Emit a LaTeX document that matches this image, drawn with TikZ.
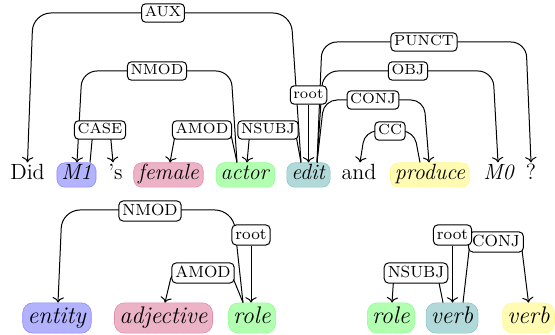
\documentclass[tikz,border=0pt]{standalone}
\usetikzlibrary{arrows.meta}
\begin{document}
\begin{tikzpicture}[x=0.5pt,y=-0.5pt,
  wa/.style={font=\fontsize{11}{13}\selectfont, text height=7.2pt, text depth=2.2pt, inner xsep=2.2pt, inner ysep=1.4pt},
  wb/.style={font=\fontsize{12}{14}\selectfont, text height=7.9pt, text depth=2.4pt, inner xsep=2.4pt, inner ysep=2.4pt},
  boxa/.style={wa, fill=#1!30, draw=#1!45, line width=0.3pt, rounded corners=4pt},
  boxb/.style={wb, fill=#1!30, draw=#1!45, line width=0.3pt, rounded corners=5pt},
  laba/.style={draw, fill=white, rounded corners=2pt, line width=0.5pt, font=\fontsize{7.3}{8.5}\selectfont, text height=5pt, text depth=1.2pt, inner xsep=1.6pt, inner ysep=1.5pt},
  labb/.style={draw, fill=white, rounded corners=2.2pt, line width=0.5pt, font=\fontsize{8.1}{9.5}\selectfont, text height=5.6pt, text depth=1.3pt, inner xsep=1.8pt, inner ysep=1.6pt},
  dep/.style={line width=0.5pt, rounded corners=7.5pt, -{To}},
  tight/.style={rounded corners=3pt},
]
\useasboundingbox (0,0) rectangle (555,335);

% row 1 words
\node[wa] (Did) at (27.5,175) {Did};
\node[boxa=blue] (M1) at (76.5,175) {\textit{M1}};
\node[wa] (s) at (115.5,175) {'s};
\node[boxa=purple] (female) at (168.5,175) {\textit{female}};
\node[boxa=green] (actor) at (245.5,175) {\textit{actor}};
\node[boxa=teal] (edit) at (308.5,175) {\textit{edit}};
\node[wa] (and) at (359,175) {and};
\node[boxa=yellow] (produce) at (430,175) {\textit{produce}};
\node[wa] (M0) at (499,175) {\textit{M0}};
\node[wa] (q) at (531,175) {?};

% row 1 edges
\draw[dep, rounded corners=9pt] ([xshift=-3.75pt]edit.north) -- (291,13) -- (33,13) -- (Did.north);
\draw[dep] ([xshift=-4.25pt]actor.north) -- (231,71) -- (82,71) -- ([xshift=0.25pt]M1.north);
\draw[dep, tight] ([xshift=6.75pt]M1.north) -- (93,130) -- (110,130) -- ([xshift=-1.25pt]s.north);
\draw[dep, tight] ([xshift=-4.25pt]actor.north) -- (230,130) -- (176,130) -- ([xshift=0.75pt]female.north);
\draw[dep, tight] ([xshift=-3.75pt]edit.north) -- (295,130) -- (250,130) -- ([xshift=0.75pt]actor.north);
\draw[dep] ([xshift=4.25pt]edit.north) -- (322,42) -- (526,42) -- (q.north);
\draw[dep] ([xshift=4.25pt]edit.north) -- (323,71) -- (493,71) -- ([xshift=-0.5pt]M0.north);
\draw[dep, rounded corners=6.5pt] ([xshift=4.25pt]edit.north) -- (324,100) -- (424,100) -- ([xshift=-0.5pt]produce.north);
\draw[dep, rounded corners=6pt] ([xshift=-5pt]produce.north) -- (414,131) -- (365,131) -- ([xshift=0.5pt]and.north);

% row 1 labels
\node[laba] (lAUX) at (163,13) {AUX};
\node[laba] (lNMOD1) at (157,71) {NMOD};
\node[laba] (lCASE) at (100,130) {CASE};
\node[laba] (lAMOD1) at (202,130) {AMOD};
\node[laba] (lNSUBJ1) at (268,130) {NSUBJ};
\node[laba] (lroot1) at (308.5,95) {root};
\node[laba] (lPUNCT) at (424,42) {PUNCT};
\node[laba] (lOBJ) at (408,71) {OBJ};
\node[laba] (lCONJ1) at (373,100) {CONJ};
\node[laba] (lCC) at (390,131) {CC};
\draw[dep] (lroot1.south) -- (lroot1.south |- edit.north);

% row 2 words
\node[boxb=blue] (entity) at (57,318) {\textit{entity}};
\node[boxb=purple] (adjective) at (163.5,318) {\textit{adjective}};
\node[boxb=green] (role) at (252,318) {\textit{role}};
\node[boxb=green] (roleb) at (391,318) {\textit{role}};
\node[boxb=teal] (verb) at (452,318) {\textit{verb}};
\node[boxb=yellow] (verbb) at (528.5,318) {\textit{verb}};

% row 2 edges
\draw[dep, rounded corners=9pt] ([xshift=-4.5pt]role.north) -- (233,210) -- (62,210) -- ([xshift=0.5pt]entity.north);
\draw[dep, tight] ([xshift=-4.5pt]role.north) -- (231,273) -- (172,273) -- ([xshift=0.75pt]adjective.north);
\draw[dep, tight] ([xshift=-4.5pt]verb.north) -- (437,273) -- (394,273) -- ([xshift=0.5pt]roleb.north);
\draw[dep, tight] ([xshift=5.5pt]verb.north) -- (470,242) -- (521,242) -- (verbb.north);

% row 2 labels
\node[labb] (lNMOD2) at (150,211) {NMOD};
\node[labb] (lroot2) at (251,235) {root};
\node[labb] (lAMOD2) at (203,273) {AMOD};
\node[labb] (lNSUBJ2) at (416,273) {NSUBJ};
\node[labb] (lCONJ2) at (496,242) {CONJ};
\node[labb] (lroot3) at (452.5,235) {root};
\draw[dep] (lroot2.south) -- (lroot2.south |- role.north);
\draw[dep] (lroot3.south) -- (lroot3.south |- verb.north);
\end{tikzpicture}
\end{document}
